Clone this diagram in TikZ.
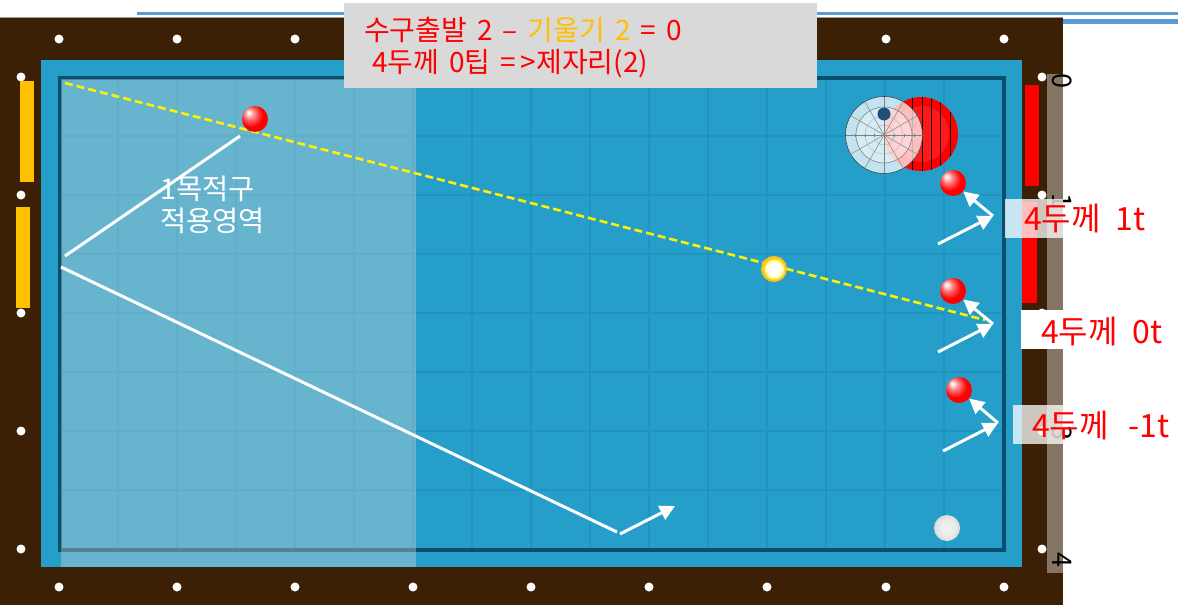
\documentclass[tikz,border=0pt]{standalone}
\usepackage{fontspec}
\setmainfont[WordSpace=1.6]{Noto Sans CJK KR}
\usetikzlibrary{arrows.meta,shadings}
\definecolor{railbrown}{HTML}{3B2006}
\definecolor{cloth}{HTML}{259FCA}
\definecolor{cushion}{HTML}{0A4F6E}
\definecolor{gridc}{HTML}{1E94BE}
\definecolor{strip}{HTML}{857565}
\definecolor{barY}{HTML}{FFC000}
\definecolor{topblue}{HTML}{5B9BD5}
\definecolor{panel}{HTML}{D9D9D9}
\definecolor{navy}{HTML}{1F4E79}
\pgfdeclareradialshading{redsphere}{\pgfpoint{-13bp}{13bp}}{color(0bp)=(white); color(3bp)=(white!90!red); color(11bp)=(red!55!white); color(22bp)=(red); color(50bp)=(red)}
\pgfdeclareradialshading{whitesphere}{\pgfpoint{0bp}{0bp}}{color(0bp)=(white!95!black); color(15bp)=(white!92!black); color(25bp)=(white!86!black); color(50bp)=(white!86!black)}
\pgfdeclareradialshading{yellowsphere}{\pgfpoint{0bp}{0bp}}{color(0bp)=(white); color(10bp)=(white); color(17bp)=(yellow!35!white); color(21bp)=(barY); color(25bp)=(barY!85!white); color(50bp)=(barY)}
\tikzset{
  x=1pt,y=-1pt,
  diamondpt/.style={circle,fill=white,inner sep=0pt,minimum size=9pt},
  redball/.style={circle,inner sep=0pt,minimum size=26pt,shading=redsphere},
  wline/.style={draw=white,line width=3pt},
  warrow/.style={wline,-{Triangle[length=15pt,width=15pt]}},
  ylw/.style={draw=yellow,line width=2.6pt,dash pattern=on 8pt off 4pt},
  lbl/.style={text=red,font=\fontsize{32}{36}\selectfont,inner sep=0pt,anchor=west},
  hdrlbl/.style={text=red,font=\fontsize{28}{32}\selectfont,inner sep=0pt,anchor=west},
  numlbl/.style={text=black,font=\fontsize{27}{27}\selectfont,rotate=-90,inner sep=0pt},
  gridline/.style={draw=gridc,line width=1.1pt},
}
\begin{document}
\begin{tikzpicture}
\useasboundingbox (0,0) rectangle (1178,605);
\fill[white] (0,0) rectangle (1178,605);
% top lines
\fill[topblue] (137,12) rectangle (1178,15);
\fill[topblue] (817,18.7) rectangle (1178,24);
\fill[black!40] (0,16.8) rectangle (1063,18);
% table
\fill[railbrown] (0,18) rectangle (1063,605);
\fill[cloth] (41,60) rectangle (1022,567);
\foreach \x in {118,177,...,944} \draw[gridline] (\x,78) -- (\x,549);
\foreach \y in {136,195,...,490} \draw[gridline] (60,\y) -- (1003,\y);
\draw[cushion,line width=4pt] (59.5,78) rectangle (1003.5,549.5);
\fill[strip] (1047,74) rectangle (1063,573);
% diamonds
\foreach \i/\x in {a/59,b/177,c/295,d/413,e/531,f/649,g/767,h/886,i/1004} {
  \node[diamondpt] (top\i) at (\x,39) {};
  \node[diamondpt] (bot\i) at (\x,587) {};
}
\foreach \i/\y in {a/77,b/195,c/313,d/431,e/549} {
  \node[diamondpt] (lef\i) at (21,\y) {};
  \node[diamondpt] (rig\i) at (1042,\y) {};
}
% bars
\fill[barY] (20,81) rectangle (34,182);
\fill[barY] (16,207) rectangle (30,308);
\fill[red] (1025,85) rectangle (1039,186);
\fill[red] (1022,202) rectangle (1037,303);
% rotated rail numbers
\node[numlbl] (n0) at (1062,81) {0};
\node[numlbl] (n1) at (1062,201) {1};
\node[numlbl] (n3) at (1062,433) {3};
\node[numlbl] (n4) at (1062,560) {4};
% translucent area
\fill[panel,opacity=.37] (61,79) rectangle (416,567);
% target panel
\begin{scope}
\fill[red] (921,134) circle (37);
\clip (921,134) circle (37);
\fill[red!90!white] (921,134) circle (28);
\foreach \x in {912,922,931,940,950} \draw[black,line width=.9pt] (\x,90) -- (\x,180);
\end{scope}
\fill[white,opacity=.72] (884,135) circle (38.5);
\fill[white,opacity=.35] (884,135) circle (28);
\draw[black!75,line width=.6pt] (884,135) circle (38.5);
\draw[black!45,line width=.7pt] (884,135) circle (28);
\draw[black!25,line width=.6pt] (884,135) circle (19);
\draw[black!25,line width=.6pt] (884,135) circle (10);
\foreach \a in {0,30,...,330} \draw[black!40,line width=.7pt] (884,135) -- ++(\a:38.5);
\draw[black!50,line width=.8pt] (845.5,135) -- (922.5,135) (884,96.5) -- (884,173.5);
\foreach \x in {855,865,874,894,904,914} \fill[cloth] (\x,133.5) rectangle +(1,3);
\node[circle,fill=navy,inner sep=0pt,minimum size=13pt] (tip) at (884,114) {};
% coordinates
\coordinate (ys) at (65,83);
\coordinate (ye) at (985,320);
\coordinate (p1) at (240,136);
\coordinate (p2) at (65,256);
\coordinate (p3) at (61,267);
\coordinate (p4) at (617,532);
\coordinate (p5) at (620,534);
\coordinate (p6) at (675,506);
\coordinate (a1) at (938,244);
\coordinate (a1t) at (993,216);
\coordinate (a2) at (938,352);
\coordinate (a2t) at (993,324);
\coordinate (a3) at (943,451);
\coordinate (a3t) at (998,423);
% balls
\draw[ylw] (ys) -- (ye);
\node[redball] (b0) at (255,119) {};
\node[redball] (b1) at (953,183) {};
\node[redball] (b2) at (953,291) {};
\node[redball] (b3) at (959,390) {};
\node[circle,inner sep=0pt,minimum size=26pt,shading=whitesphere] (bw) at (947,528) {};
\node[circle,inner sep=0pt,minimum size=26pt,shading=yellowsphere] (by) at (774,269) {};
% connectors
\draw[wline] (p1) -- (p2);
\draw[wline] (p3) -- (p4);
\draw[warrow] (p5) -- (p6);
\draw[warrow] (a1t) -- (b1);
\draw[warrow] (a1) -- (a1t);
\draw[warrow] (a2t) -- (b2);
\draw[warrow] (a2) -- (a2t);
\draw[warrow] (a3t) -- (b3);
\draw[warrow] (a3) -- (a3t);
\node[text=white,font=\fontsize{28.5}{31.5}\selectfont,align=left,inner sep=0pt,anchor=west] (area) at (160,205) {1목적구\\적용영역};
% label boxes
\fill[white,opacity=.75] (1005,199) rectangle (1063,238);
\fill[white] (1021,310) rectangle (1063,349);
\fill[white,opacity=.75] (1013,405) rectangle (1063,444);
\node[lbl] (l1) at (1024,219) {4두께\hspace{3pt} 1t};
\node[lbl] (l2) at (1041,332) {4두께\hspace{3pt} 0t};
\node[lbl] (l3) at (1032,426) {4두께\hspace{8pt} -1t};
% header
\node[fill=panel,minimum width=473pt,minimum height=85pt,inner sep=0pt] (hdr) at (580.5,45.5) {};
\node[hdrlbl] (h1) at (364,30) {수구출발 2 – \textcolor{barY}{기울기 2} = 0};
\node[hdrlbl] (h2) at (372,63.5) {4두께 0팁 =\,>제자리(2)};
\end{tikzpicture}
\end{document}
